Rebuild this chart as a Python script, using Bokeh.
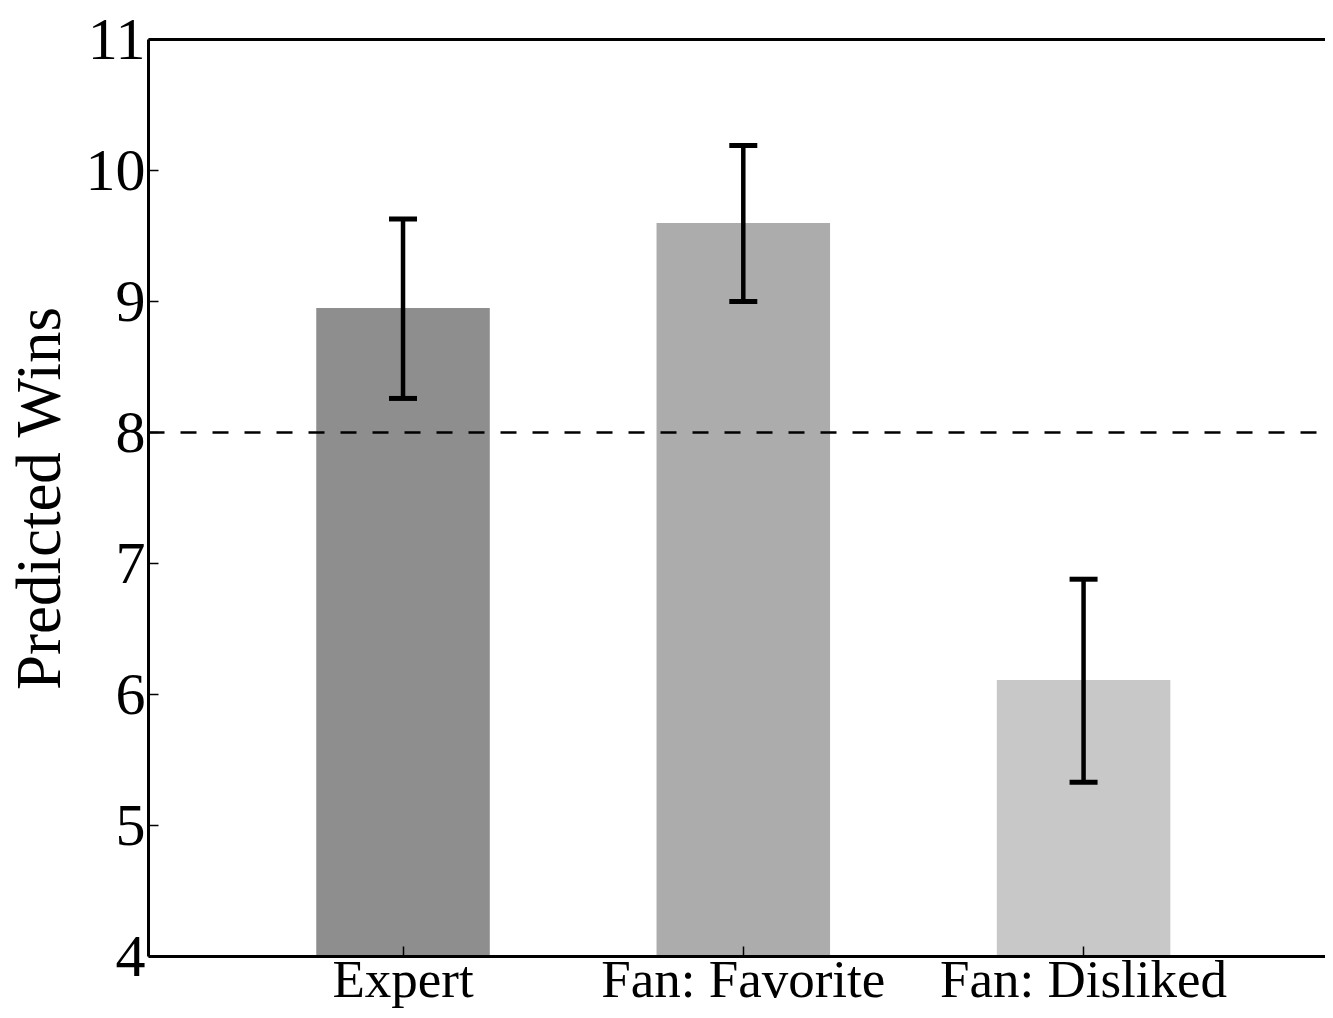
from bokeh.plotting import figure
from bokeh.models import Range1d, FixedTicker, LinearAxis, Span, Whisker, TeeHead, ColumnDataSource
from bokeh.embed import file_html
from bokeh.resources import INLINE

categories = ["Expert", "Fan: Favorite", "Fan: Disliked"]
values = [8.95, 9.60, 6.11]
err_lower = [8.26, 9.00, 5.33]
err_upper = [9.63, 10.19, 6.88]
colors = ["#8e8e8e", "#acacac", "#c8c8c8"]
y_ticks = [4, 5, 6, 7, 8, 9, 10, 11]
reference_line = 8

positions = list(range(len(categories)))
src = ColumnDataSource(dict(x=positions, top=values, lower=err_lower, upper=err_upper, color=colors))

FONT = "Liberation Serif"

p = figure(width=1325, height=1010, output_backend="svg", toolbar_location=None,
           x_range=Range1d(-0.748, 2.711), y_range=Range1d(4, 11),
           min_border_left=140, min_border_right=0, min_border_top=39, min_border_bottom=0)
p.outline_line_color = None
p.grid.visible = False
p.background_fill_color = "white"
p.border_fill_color = "white"

p.vbar(x="x", top="top", bottom=4, width=0.51, color="color", line_color=None, source=src)

p.add_layout(Span(location=reference_line, dimension="width", line_color="black",
                  line_width=2.5, line_dash="16 16"))

w = Whisker(base="x", lower="lower", upper="upper", source=src, line_color="black", line_width=4.5,
            level="overlay",
            upper_head=TeeHead(size=28, line_width=5, line_color="black"),
            lower_head=TeeHead(size=28, line_width=5, line_color="black"))
p.add_layout(w)

# y axis
ya = p.yaxis[0]
ya.ticker = FixedTicker(ticks=y_ticks)
ya.axis_label = "Predicted Wins"
ya.axis_label_text_font = FONT
ya.axis_label_text_font_size = "63px"
ya.axis_label_text_font_style = "normal"
ya.axis_label_text_color = "black"
ya.axis_label_standoff = 9
ya.major_label_text_font = FONT
ya.major_label_text_font_size = "60px"
ya.major_label_text_color = "black"
ya.major_label_standoff = 3
ya.major_tick_in = 10
ya.major_tick_out = 0
ya.major_tick_line_width = 1.5
ya.minor_tick_line_color = None
ya.axis_line_width = 3
ya.axis_line_color = "black"

# x axis
xa = p.xaxis[0]
xa.ticker = FixedTicker(ticks=positions)
xa.major_label_overrides = {i: c for i, c in zip(positions, categories)}
xa.major_label_text_font = FONT
xa.major_label_text_font_size = "53px"
xa.major_label_text_color = "black"
xa.major_label_standoff = -7
xa.major_tick_in = 10
xa.major_tick_out = 0
xa.major_tick_line_width = 1.5
xa.minor_tick_line_color = None
xa.axis_line_width = 3
xa.axis_line_color = "black"

# top spine
top = LinearAxis(ticker=FixedTicker(ticks=[]), axis_line_width=3, axis_line_color="black",
                 major_tick_line_color=None, minor_tick_line_color=None)
p.add_layout(top, "above")

open("out.html", "w").write(file_html(p, INLINE))
